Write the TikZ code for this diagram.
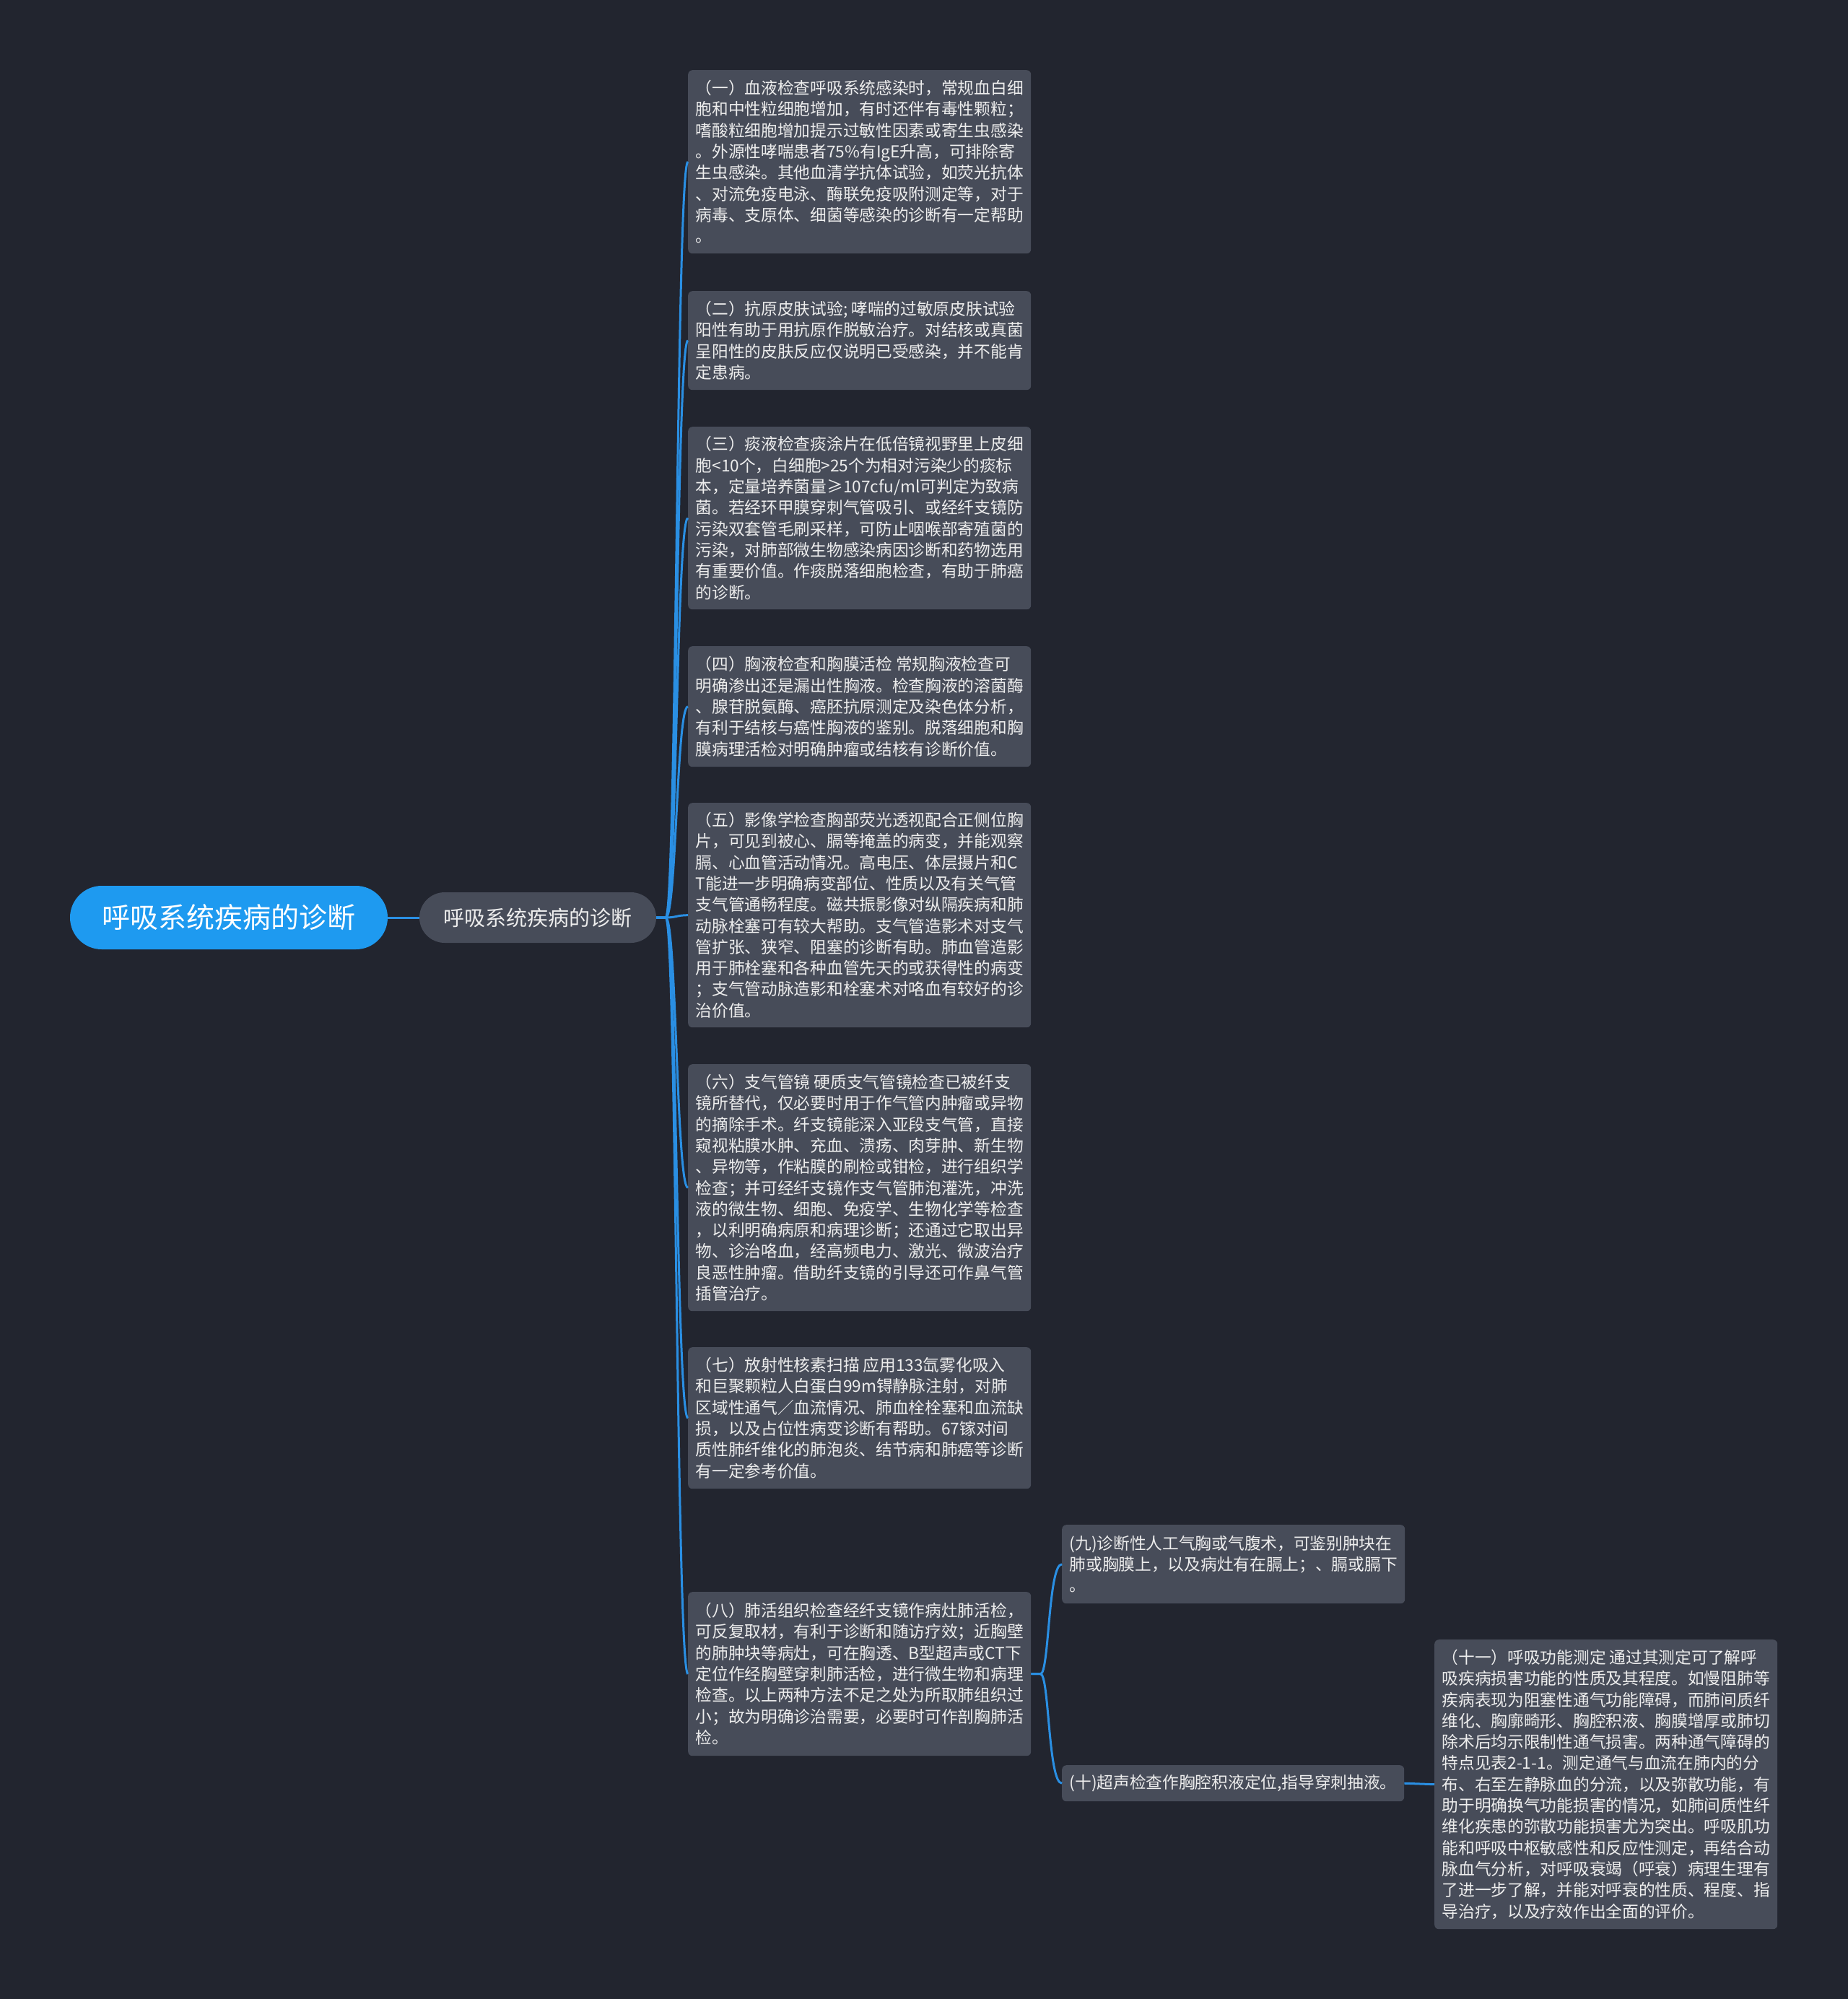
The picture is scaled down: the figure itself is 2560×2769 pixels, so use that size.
\documentclass[tikz,border=0pt]{standalone}
\usepackage{fontspec}
\setmainfont{Noto Sans CJK SC}
\usetikzlibrary{calc}
\definecolor{bg}{HTML}{22252F}
\definecolor{boxc}{HTML}{474C59}
\definecolor{txt}{HTML}{EDEDED}
\definecolor{rootc}{HTML}{1E9AF0}
\definecolor{linec}{HTML}{2A8FE3}
\begin{document}
\begin{tikzpicture}[x=1pt,y=-1pt,
  leaf/.style={fill=boxc, rounded corners=6pt, text=txt, align=left, inner xsep=10.5pt, inner ysep=0pt, anchor=north west, font=\fontsize{22.7}{29.3}\selectfont},
  conn/.style={draw=linec, line width=3pt}]
\fill[bg] (0,0) rectangle (2560,2769);
\useasboundingbox (0,0) rectangle (2560,2769);

\node[fill=rootc, rounded corners=44pt, minimum width=440pt, minimum height=88pt, inner sep=0pt, text=white, font=\fontsize{39}{47}\selectfont] (root) at (317,1271) {呼吸系统疾病的诊断};
\node[fill=boxc, rounded corners=35pt, minimum width=328pt, minimum height=70pt, inner sep=0pt, text=txt, font=\fontsize{29}{35}\selectfont] (sub) at (745,1271) {呼吸系统疾病的诊断};

\node[leaf, minimum height=254pt] (b1) at (953,97) {（一）血液检查呼吸系统感染时，常规血白细\\
胞和中性粒细胞增加，有时还伴有毒性颗粒；\\
嗜酸粒细胞增加提示过敏性因素或寄生虫感染\\
。外源性哮喘患者75\%有IgE升高，可排除寄\\
生虫感染。其他血清学抗体试验，如荧光抗体\\
、对流免疫电泳、酶联免疫吸附测定等，对于\\
病毒、支原体、细菌等感染的诊断有一定帮助\\
。};

\node[leaf, minimum height=137pt] (b2) at (953,403) {（二）抗原皮肤试验; 哮喘的过敏原皮肤试验\\
阳性有助于用抗原作脱敏治疗。对结核或真菌\\
呈阳性的皮肤反应仅说明已受感染，并不能肯\\
定患病。};

\node[leaf, minimum height=253pt] (b3) at (953,591) {（三）痰液检查痰涂片在低倍镜视野里上皮细\\
胞<10个，白细胞>25个为相对污染少的痰标\\
本，定量培养菌量≥107cfu/ml可判定为致病\\
菌。若经环甲膜穿刺气管吸引、或经纤支镜防\\
污染双套管毛刷采样，可防止咽喉部寄殖菌的\\
污染，对肺部微生物感染病因诊断和药物选用\\
有重要价值。作痰脱落细胞检查，有助于肺癌\\
的诊断。};

\node[leaf, minimum height=167pt] (b4) at (953,895) {（四）胸液检查和胸膜活检 常规胸液检查可\\
明确渗出还是漏出性胸液。检查胸液的溶菌酶\\
、腺苷脱氨酶、癌胚抗原测定及染色体分析，\\
有利于结核与癌性胸液的鉴别。脱落细胞和胸\\
膜病理活检对明确肿瘤或结核有诊断价值。};

\node[leaf, minimum height=311pt] (b5) at (953,1112) {（五）影像学检查胸部荧光透视配合正侧位胸\\
片，可见到被心、膈等掩盖的病变，并能观察\\
膈、心血管活动情况。高电压、体层摄片和C\\
T能进一步明确病变部位、性质以及有关气管\\
支气管通畅程度。磁共振影像对纵隔疾病和肺\\
动脉栓塞可有较大帮助。支气管造影术对支气\\
管扩张、狭窄、阻塞的诊断有助。肺血管造影\\
用于肺栓塞和各种血管先天的或获得性的病变\\
；支气管动脉造影和栓塞术对咯血有较好的诊\\
治价值。};

\node[leaf, minimum height=342pt] (b6) at (953,1474) {（六）支气管镜 硬质支气管镜检查已被纤支\\
镜所替代，仅必要时用于作气管内肿瘤或异物\\
的摘除手术。纤支镜能深入亚段支气管，直接\\
窥视粘膜水肿、充血、溃疡、肉芽肿、新生物\\
、异物等，作粘膜的刷检或钳检，进行组织学\\
检查；并可经纤支镜作支气管肺泡灌洗，冲洗\\
液的微生物、细胞、免疫学、生物化学等检查\\
，以利明确病原和病理诊断；还通过它取出异\\
物、诊治咯血，经高频电力、激光、微波治疗\\
良恶性肿瘤。借助纤支镜的引导还可作鼻气管\\
插管治疗。};

\node[leaf, minimum height=196pt] (b7) at (953,1866) {（七）放射性核素扫描 应用133氙雾化吸入\\
和巨聚颗粒人白蛋白99m锝静脉注射，对肺\\
区域性通气／血流情况、肺血栓栓塞和血流缺\\
损，以及占位性病变诊断有帮助。67镓对间\\
质性肺纤维化的肺泡炎、结节病和肺癌等诊断\\
有一定参考价值。};

\node[leaf, minimum height=227pt] (b8) at (953,2205) {（八）肺活组织检查经纤支镜作病灶肺活检，\\
可反复取材，有利于诊断和随访疗效；近胸壁\\
的肺肿块等病灶，可在胸透、B型超声或CT下\\
定位作经胸壁穿刺肺活检，进行微生物和病理\\
检查。以上两种方法不足之处为所取肺组织过\\
小；故为明确诊治需要，必要时可作剖胸肺活\\
检。};

\node[leaf, minimum height=109pt] (b9) at (1471,2112) {(九)诊断性人工气胸或气腹术，可鉴别肿块在\\
肺或胸膜上，以及病灶有在膈上；、膈或膈下\\
。};

\node[leaf, minimum height=50pt] (b10) at (1471,2445) {(十)超声检查作胸腔积液定位,指导穿刺抽液。};

\node[leaf, minimum height=401pt] (b11) at (1987,2271) {（十一）呼吸功能测定 通过其测定可了解呼\\
吸疾病损害功能的性质及其程度。如慢阻肺等\\
疾病表现为阻塞性通气功能障碍，而肺间质纤\\
维化、胸廓畸形、胸腔积液、胸膜增厚或肺切\\
除术后均示限制性通气损害。两种通气障碍的\\
特点见表2-1-1。测定通气与血流在肺内的分\\
布、右至左静脉血的分流，以及弥散功能，有\\
助于明确换气功能损害的情况，如肺间质性纤\\
维化疾患的弥散功能损害尤为突出。呼吸肌功\\
能和呼吸中枢敏感性和反应性测定，再结合动\\
脉血气分析，对呼吸衰竭（呼衰）病理生理有\\
了进一步了解，并能对呼衰的性质、程度、指\\
导治疗，以及疗效作出全面的评价。};

\begin{scope}[on background layer/.try]
\end{scope}
\draw[conn] (root.east) -- (sub.west);
\foreach \b in {b1,b2,b3,b4,b5,b6,b7,b8}
  \draw[conn] (sub.east) -- ++(13,0) .. controls ($(sub.east)+(28,0)$) and ($(\b.west)+(-16,0)$) .. (\b.west);
\foreach \b in {b9,b10}
  \draw[conn] (b8.east) -- ++(13,0) .. controls ($(b8.east)+(25,0)$) and ($(\b.west)+(-19,0)$) .. (\b.west);
\draw[conn] (b10.east) -- (b11.west);
\end{tikzpicture}
\end{document}
